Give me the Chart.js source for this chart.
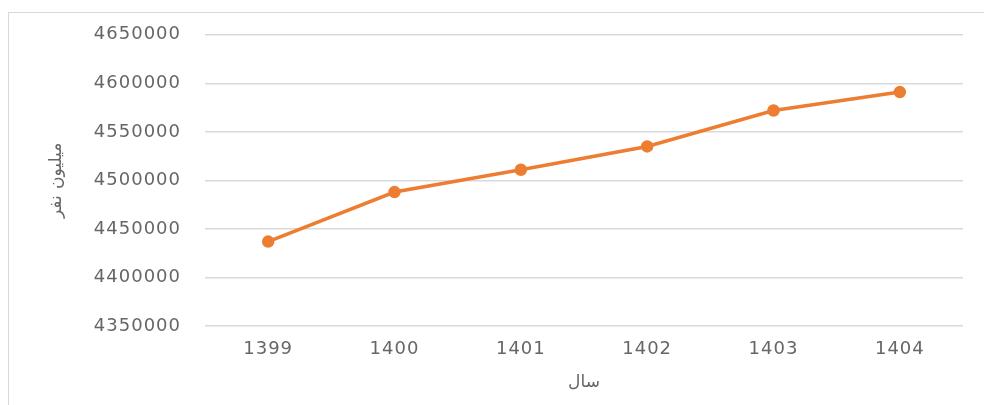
<!DOCTYPE html>
<html>
<head>
<meta charset="utf-8">
<script src="https://cdn.jsdelivr.net/npm/chart.js@4"></script>
<style>
  html, body { margin: 0; padding: 0; background: #fff; overflow: hidden; }
  #wrap { position: absolute; left: 0; top: 0; width: 984px; height: 405px; }
  #frame { position: absolute; left: 8px; top: 12px; width: 990px; height: 410px; border: 1px solid #d9d9d9; }
</style>
</head>
<body>
<div id="frame"></div>
<div id="wrap"><canvas id="chartLine"></canvas></div>
<script>
const years = ["1399", "1400", "1401", "1402", "1403", "1404"];
const population = [4437000, 4488000, 4511000, 4535000, 4572000, 4591000];
const yMin = 4350000;
const yMax = 4650000;
const yStep = 50000;
const yTitle = "میلیون نفر";
const xTitle = "سال";

const lineColor = "#ed7d31";
const textColor = "#666666";
const gridColor = "#d9d9d9";

// the tick labels in the picture are wide and short, so space the letters out a bit
const wideText = {
  id: "wideText",
  beforeDraw(chart) {
    chart.ctx.letterSpacing = "1px";
  },
};

const data = {
  labels: years,
  datasets: [
    {
      label: "population",
      data: population,
      borderColor: lineColor,
      backgroundColor: lineColor,
      borderWidth: 3.5,
      pointRadius: 4.5,
      pointHoverRadius: 4.5,
      tension: 0,
    },
  ],
};

const configLineChart = {
  type: "line",
  data,
  plugins: [wideText],
  options: {
    responsive: true,
    maintainAspectRatio: false,
    animation: false,
    layout: { padding: { left: 46, top: 34, right: 21, bottom: 0 } },
    plugins: { legend: { display: false }, tooltip: { enabled: false } },
    scales: {
      x: {
        offset: true,
        grid: { display: false, drawTicks: false },
        border: { display: false },
        ticks: { color: textColor, font: { family: "DejaVu Sans", size: 18 }, padding: 13 },
        title: {
          display: true,
          text: xTitle,
          color: textColor,
          font: { family: "DejaVu Sans", size: 17 },
          padding: { top: 0, bottom: 12 },
        },
        afterFit: (scale) => { scale.height = 79; },
      },
      y: {
        min: yMin,
        max: yMax,
        grid: { color: gridColor, lineWidth: 1.5, drawTicks: false },
        border: { display: false },
        ticks: {
          stepSize: yStep,
          color: textColor,
          font: { family: "DejaVu Sans", size: 18 },
          padding: 24,
          callback: (v) => String(v),
        },
        title: {
          display: true,
          text: yTitle,
          color: textColor,
          font: { family: "DejaVu Sans", size: 17 },
          padding: 0,
        },
        afterFit: (scale) => { scale.width = 205 - 46; },
      },
    },
  },
};

var chartLine = new Chart(document.getElementById("chartLine"), configLineChart);
</script>
</body>
</html>
